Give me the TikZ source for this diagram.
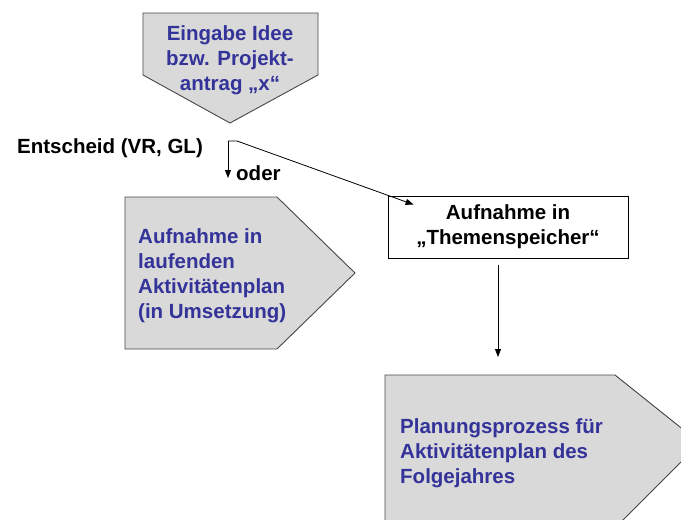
\documentclass[tikz,border=0pt]{standalone}
\usepackage{fontspec}
\setmainfont{Liberation Sans}
\usepackage{tikz}
\usetikzlibrary{arrows.meta}
\usetikzlibrary{positioning}
\definecolor{boxgray}{RGB}{217,217,217}
\definecolor{edgegray}{RGB}{70,70,70}
\definecolor{textblue}{RGB}{51,51,153}
\tikzstyle{arrowshape}=[fill=boxgray,draw=edgegray,line width=0.9pt]
\tikzstyle{bluetext}=[text=textblue,inner sep=0pt,font=\bfseries\fontsize{20.5}{25}\selectfont]
\tikzstyle{blacktext}=[text=black,inner sep=0pt,font=\bfseries\fontsize{20.5}{25}\selectfont]
\tikzstyle{conn}=[line width=0.8pt,-{Triangle[length=8pt,width=6pt]}]

\begin{document}
\begin{tikzpicture}[x=1pt,y=-1pt]
\path[use as bounding box] (0,0) rectangle (681,520);
\clip (0,0) rectangle (681,520);
% gray arrow shapes
\draw[arrowshape] (143,13) -- (318,13) -- (318,75) -- (230,123) -- (143,75) -- cycle;
\draw[arrowshape] (125,197) -- (277,197) -- (355,273) -- (277,349) -- (125,349) -- cycle;
\draw[arrowshape] (385,375) -- (615,375) -- (700,443) -- (603,540) -- (385,540) -- cycle;
% texts
\node[bluetext,align=center,anchor=north] (idee) at (230,25) {Eingabe Idee\\bzw. Projekt-\\antrag „x“};
\node[bluetext,align=left,anchor=north west] (laufend) at (138,228) {Aufnahme in\\laufenden\\Aktivitätenplan\\(in Umsetzung)};
\node[bluetext,align=left,anchor=north west] (planung) at (400,418) {Planungsprozess für\\Aktivitätenplan des\\Folgejahres};
\node[blacktext,anchor=base west] (entscheid) at (17,153) {Entscheid (VR, GL)};
\node[blacktext,anchor=base west] (oder) at (236,180) {oder};
\node[blacktext,draw,fill=white,line width=0.8pt,align=center,minimum width=240pt,minimum height=62pt] (thema) at (508,227) {Aufnahme in\\„Themenspeicher“};
% connectors
\coordinate (split) at (228,141);
\coordinate (down) at (228,178);
\coordinate (plan) at (498,357);
\draw[conn] (split) -- (down);
\draw[conn] (split) -- ++(9,0) -- ([xshift=26pt,yshift=-9pt]thema.north west);
\draw[conn] ([xshift=-10pt,yshift=-7pt]thema.south) -- (plan);
\end{tikzpicture}
\end{document}
